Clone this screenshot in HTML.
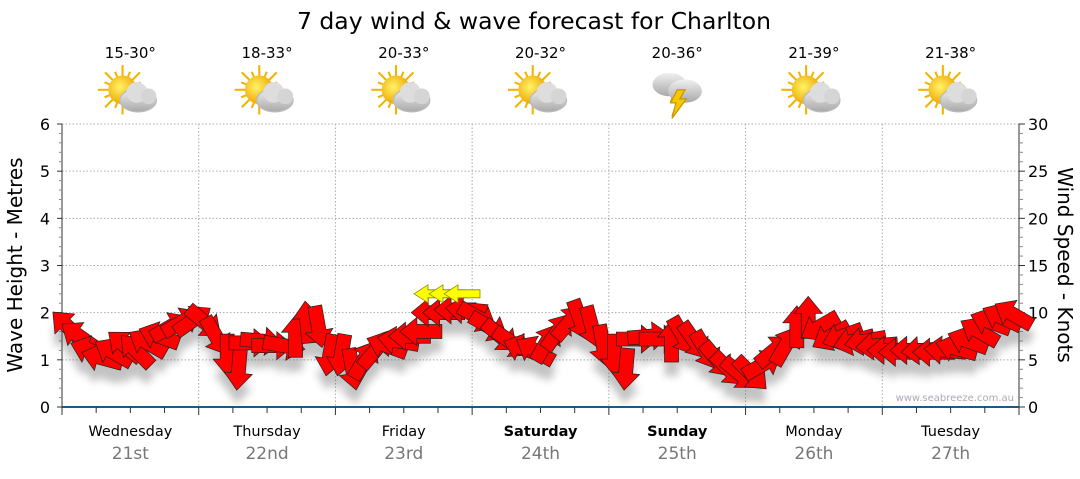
<!DOCTYPE html>
<html><head><meta charset="utf-8"><style>
body{margin:0;background:#fff;width:1080px;height:475px;overflow:hidden;font-family:"DejaVu Sans","Liberation Sans",sans-serif}
</style></head><body>
<svg id="chart" width="1080" height="475" xmlns="http://www.w3.org/2000/svg" font-family="DejaVu Sans, Liberation Sans, sans-serif">
<defs>
<filter id="sh" x="-50%" y="-50%" width="200%" height="200%"><feGaussianBlur stdDeviation="4"/></filter>
<radialGradient id="sun" cx="0.4" cy="0.4" r="0.6"><stop offset="0" stop-color="#fff36a"/><stop offset="1" stop-color="#f0a800"/></radialGradient>
<linearGradient id="cloud" x1="0" y1="0" x2="0" y2="1"><stop offset="0" stop-color="#f0f0f0"/><stop offset="1" stop-color="#a8a8a8"/></linearGradient>
</defs>
<text x="534" y="29" font-size="23.5" text-anchor="middle">7 day wind &amp; wave forecast for Charlton</text>
<g id="grid"></g>
<g id="axes"></g>
<g id="header"></g>
<g id="shadows" filter="url(#sh)" opacity="0.35"></g>
<g id="arrows"></g>
<text x="1014" y="401" font-size="10" fill="#aab" text-anchor="end">www.seabreeze.com.au</text>
<text transform="translate(22,265) rotate(-90)" font-size="20" text-anchor="middle">Wave Height - Metres</text>
<text transform="translate(1058,265) rotate(90)" font-size="20" text-anchor="middle">Wind Speed - Knots</text>
</svg>
<script>
const days=["Wednesday","Thursday","Friday","Saturday","Sunday","Monday","Tuesday"];
const dates=["21st","22nd","23rd","24th","25th","26th","27th"];
const bold=[false,false,false,true,true,false,false];
const temps=["15-30°","18-33°","20-33°","20-32°","20-36°","21-39°","21-38°"];
const icons=["partly","partly","partly","partly","storm","partly","partly"];
const waveTicks=[0,1,2,3,4,5,6];
const windTicks=[0,5,10,15,20,25,30];
// wind speed (knots) every 2 hours, 12 per day
const windSpeed=[
8.5,7.5,6,5.2,5.8,6.5,6,6.8,7.5,8.5,9,9.2,
9,7.5,5.5,4,6.8,7,6.5,6.5,7.5,9,8.5,5.5,
5.5,4,5,6,6.5,7,7.5,8,10,10,10.3,10.3,
9.5,8.5,7.5,6.8,6.2,6,6.8,8,9,9.2,8.5,6.5,
5.5,4,7.2,7.5,7.2,7,7.5,7,6,5,4,3.5,
3.5,4.5,6,6.5,8.5,9.5,8.5,7.5,7.5,7,7,6.5,
6,5.8,6,6,5.8,6,6.2,7,8,9,9.5,9.8];
// direction arrow points, degrees screen (0=right, 90=down)
const windDir=[
225,215,200,195,210,220,225,210,200,330,330,325,
40,60,90,95,0,5,0,10,270,265,80,100,
100,80,300,310,200,190,180,180,180,180,180,185,
30,30,40,35,200,210,300,305,310,70,75,80,
90,95,0,355,0,270,60,55,60,50,45,40,
45,330,320,300,270,270,150,150,160,165,170,175,
180,180,180,175,180,185,195,200,210,200,205,210];
const yellowX=[428,443,458];
const yellowSpeed=[12,12,12];

const NS="http://www.w3.org/2000/svg";
const X0=62,X1=1019,Y0=407,Y1=124,DW=(X1-X0)/7;
const yW=v=>Y0-(Y0-Y1)*v/6, yK=v=>Y0-(Y0-Y1)*v/30;
const xT=i=>X0+(i+0.5)*DW/12;
function mk(tag,attrs,parent){const e=document.createElementNS(NS,tag);for(const k in attrs)e.setAttribute(k,attrs[k]);parent.appendChild(e);return e;}
const grid=document.getElementById('grid'),axes=document.getElementById('axes'),hdr=document.getElementById('header');
waveTicks.forEach(v=>{if(v>0){const l=mk('line',{x1:X0,x2:X1,y1:yW(v),y2:yW(v),stroke:'#aaa','stroke-dasharray':'1.5,2'},grid);}});
for(let d=1;d<7;d++){const l=mk('line',{x1:X0+d*DW,x2:X0+d*DW,y1:Y1,y2:Y0,stroke:'#aaa','stroke-dasharray':'1.5,2'},grid);}
let a=mk('line',{x1:X0,x2:X0,y1:Y1,y2:Y0,stroke:'#333'},axes);
a=mk('line',{x1:X1,x2:X1,y1:Y1,y2:Y0,stroke:'#333'},axes);
a=mk('line',{x1:X0,x2:X1,y1:Y0,y2:Y0,stroke:'#1a5a8a','stroke-width':2},axes);
for(let i=0;i<=30;i++){const y=Y0-(Y0-Y1)*i/30;mk('line',{x1:X0-(i%5?3:5),x2:X0,y1:y,y2:y,stroke:i%5?'#888':'#333'},axes);mk('line',{x1:X1,x2:X1+(i%5?4:6),y1:y,y2:y,stroke:i%5?'#888':'#333'},axes);}
waveTicks.forEach(v=>{const t=mk('text',{x:50,y:yW(v)+6,'font-size':16,'text-anchor':'end'},axes);t.textContent=v;});
windTicks.forEach(v=>{const t=mk('text',{x:1028,y:yK(v)+6,'font-size':16},axes);t.textContent=v;});
for(let i=0;i<=28;i++){const x=X0+i*DW/4;mk('line',{x1:x,x2:x,y1:Y0,y2:Y0+(i%4?6:8),stroke:'#333'},axes);}
days.forEach((d,i)=>{const cx=X0+(i+0.5)*DW;
const t=mk('text',{x:cx,y:436,'font-size':14.5,'text-anchor':'middle','font-weight':bold[i]?'bold':'normal'},axes);t.textContent=d;
const t2=mk('text',{x:cx,y:459,'font-size':17,'text-anchor':'middle',fill:'#777'},axes);t2.textContent=dates[i];
const t3=mk('text',{x:cx,y:58,'font-size':15,'text-anchor':'middle'},hdr);t3.textContent=temps[i];
const g=mk('g',{transform:`translate(${cx},95) scale(1.3)`},hdr);
if(icons[i]==='partly'){for(let r=0;r<16;r++){const ang=r*Math.PI/8;mk('line',{x1:-6+Math.cos(ang)*10,y1:-4+Math.sin(ang)*10,x2:-6+Math.cos(ang)*(r%2?15:19),y2:-4+Math.sin(ang)*(r%2?15:19),stroke:'#f2b400','stroke-width':1.6},g);}
mk('circle',{cx:-6,cy:-4,r:11,fill:'url(#sun)'},g);
mk('ellipse',{cx:6,cy:4,rx:14,ry:9,fill:'url(#cloud)',stroke:'#bbb'},g);mk('circle',{cx:5,cy:-2,r:8,fill:'#ddd'},g);mk('circle',{cx:14,cy:1,r:6,fill:'#d5d5d5'},g);}
else{mk('ellipse',{cx:-6,cy:-8,rx:13,ry:9,fill:'url(#cloud)'},g);mk('polygon',{points:'-1,-6 6,-6 2,2 8,2 -4,16 0,5 -5,5',fill:'#f5c800',stroke:'#c90'},g);mk('ellipse',{cx:6,cy:-3,rx:13,ry:9,fill:'url(#cloud)'},g);mk('polygon',{points:'0,-4 6,-4 2,3 7,3 -4,18 -1,6 -5,6',fill:'#f5c800',stroke:'#c90'},g);}
});
const shadows=document.getElementById('shadows'),arr=document.getElementById('arrows');
const shape='M21,0 L4,-14 L4,-7 L-21,-7 L-21,7 L4,7 L4,14 Z';
windSpeed.forEach((s,i)=>{const x=xT(i),y=yK(s);
mk('path',{d:shape,transform:`translate(${x},${y+14}) rotate(${windDir[i]})`,fill:'#555'},shadows);
const p=mk('path',{d:shape,transform:`translate(${x},${y}) rotate(${windDir[i]})`,fill:'#f00',stroke:'#222','stroke-width':0.7},arr);

});
yellowX.forEach((x,i)=>{const p=mk('path',{d:'M-14,0 L0,-9 L0,-4 L22,-4 L22,4 L0,4 L0,9 Z',transform:`translate(${x},${yK(yellowSpeed[i])})`,fill:'#ff0',stroke:'#880','stroke-width':0.8},arr);

});
</script>
</body></html>
